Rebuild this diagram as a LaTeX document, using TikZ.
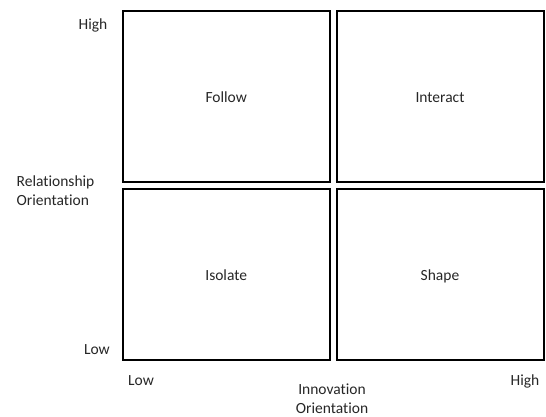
\documentclass[tikz,border=0pt]{standalone}
\usepackage{fontspec}
\setmainfont{Carlito}[Ligatures={NoCommon}]
\begin{document}
\begin{tikzpicture}[x=1pt,y=-1pt,
  quad/.style={draw=black,line width=2pt,rectangle,inner sep=0pt,
    minimum width=207pt,minimum height=171pt,text height=11.5pt,text depth=0pt,
    font=\fontsize{15.5}{19}\selectfont,text=black!85},
  axlabel/.style={inner sep=0pt,font=\fontsize{15.5}{19}\selectfont,text=black!85}]
\useasboundingbox (0,0) rectangle (546,417);
\node[quad] (follow) at (226.2,96.5) {Follow};
\node[quad] (interact) at (440,96.5) {Interact};
\node[quad] (isolate) at (226.2,274.5) {Isolate};
\node[quad] (shape) at (440,274.5) {Shape};
\node[axlabel,anchor=base east] (yhigh) at (107.5,29.3) {High};
\node[axlabel,anchor=base east] (ylow) at (110,354) {Low};
\node[axlabel,anchor=base west,align=left] (yaxis) at (16.5,205) {Relationship\\Orientation};
\node[axlabel,anchor=base west] (xlow) at (128,385) {Low};
\node[axlabel,anchor=base east] (xhigh) at (539.5,385) {High};
\node[axlabel,anchor=base,align=center] (xaxis) at (332,413.5) {Innovation\\Orientation};
\end{tikzpicture}
\end{document}
